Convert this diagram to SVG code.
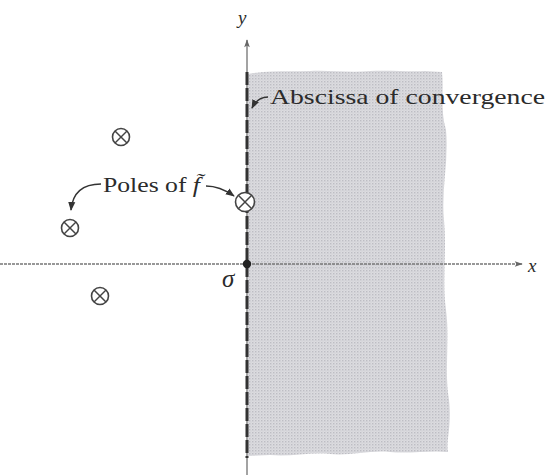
<svg xmlns="http://www.w3.org/2000/svg" width="549" height="475" viewBox="0 0 549 475">
<style>
.lbl{font-family:"Liberation Serif","Times New Roman",serif;fill:#2b2b2b;font-size:21px}
.it{font-style:italic}
.ax{font-size:19px}
.sig{font-size:25px}
.pole circle{fill:#fff;stroke:#444;stroke-width:1.6}
.pole line{stroke:#444;stroke-width:1.5}
.lead{fill:none;stroke:#333;stroke-width:1.4}
</style>
<defs>
<pattern id="dots" width="3" height="3" patternUnits="userSpaceOnUse">
<rect width="3" height="3" fill="#dcdce0"/>
<rect x="0" y="0" width="1.4" height="1.4" fill="#bdbdc3"/>
<rect x="1.5" y="1.5" width="1" height="1" fill="#cacacf"/>
</pattern>
<marker id="ah" viewBox="0 0 10 10" refX="9" refY="5" markerWidth="9" markerHeight="9" markerUnits="userSpaceOnUse" orient="auto">
<path d="M0,1 L10,5 L0,9 Z" fill="#333"/>
</marker>
<marker id="axh" viewBox="0 0 10 10" refX="9" refY="5" markerWidth="10" markerHeight="8" markerUnits="userSpaceOnUse" orient="auto">
<path d="M0,1.5 L10,5 L0,8.5 L2,5 Z" fill="#666"/>
</marker>
</defs>
<rect width="549" height="475" fill="#fff"/>
<g id="halfplane">
<path d="M248,74 C270,70 290,72 310,71 C330,70 350,73 370,71 C390,70 410,72 425,71 L442,72 C444,90 440,110 446,130 C449,160 441,190 444,220 C447,250 442,280 446,310 C450,340 444,370 449,400 C452,425 446,440 448,452 C430,450 410,454 390,452 C370,450 350,456 330,454 C310,452 290,457 270,455 L248,456 Z" fill="url(#dots)"/>
</g>
<g id="axes">
<line x1="0" y1="264" x2="522" y2="264" stroke="#777" stroke-width="1.3" stroke-dasharray="3 1" marker-end="url(#axh)"/>
<line x1="247" y1="475" x2="247" y2="40" stroke="#666" stroke-width="1.2" marker-end="url(#axh)"/>
<line x1="247" y1="72" x2="247" y2="458" stroke="#333" stroke-width="3" stroke-dasharray="13 3"/>
<circle cx="247" cy="264" r="4.2" fill="#222"/>
<text class="lbl it ax" x="238" y="24">y</text>
<text class="lbl it ax" x="528" y="272">x</text>
<text class="lbl it sig" x="222" y="287">σ</text>
</g>
<g id="pole1" class="pole"><circle cx="121" cy="137" r="8.5"/><line x1="115" y1="131" x2="127" y2="143"/><line x1="127" y1="131" x2="115" y2="143"/></g>
<g id="pole2" class="pole"><circle cx="70" cy="228" r="8.5"/><line x1="64" y1="222" x2="76" y2="234"/><line x1="76" y1="222" x2="64" y2="234"/></g>
<g id="pole3" class="pole"><circle cx="245" cy="202" r="9.5"/><line x1="238.3" y1="195.3" x2="251.7" y2="208.7"/><line x1="251.7" y1="195.3" x2="238.3" y2="208.7"/></g>
<g id="pole4" class="pole"><circle cx="100" cy="296" r="8.5"/><line x1="94" y1="290" x2="106" y2="302"/><line x1="106" y1="290" x2="94" y2="302"/></g>
<g id="labels">
<text class="lbl" x="270" y="104" textLength="275" lengthAdjust="spacingAndGlyphs">Abscissa of convergence</text>
<text class="lbl" x="103" y="192" textLength="97" lengthAdjust="spacingAndGlyphs">Poles of <tspan class="it">f&#x303;</tspan></text>
</g>
<g id="connectors">
<path class="lead" d="M268,97 C262,97 256,100 252,108" marker-end="url(#ah)"/>
<path class="lead" d="M101,184 C88,184 73,188 71,210" marker-end="url(#ah)"/>
<path class="lead" d="M206,186 C215,186 224,189 234,196" marker-end="url(#ah)"/>
</g>
</svg>
